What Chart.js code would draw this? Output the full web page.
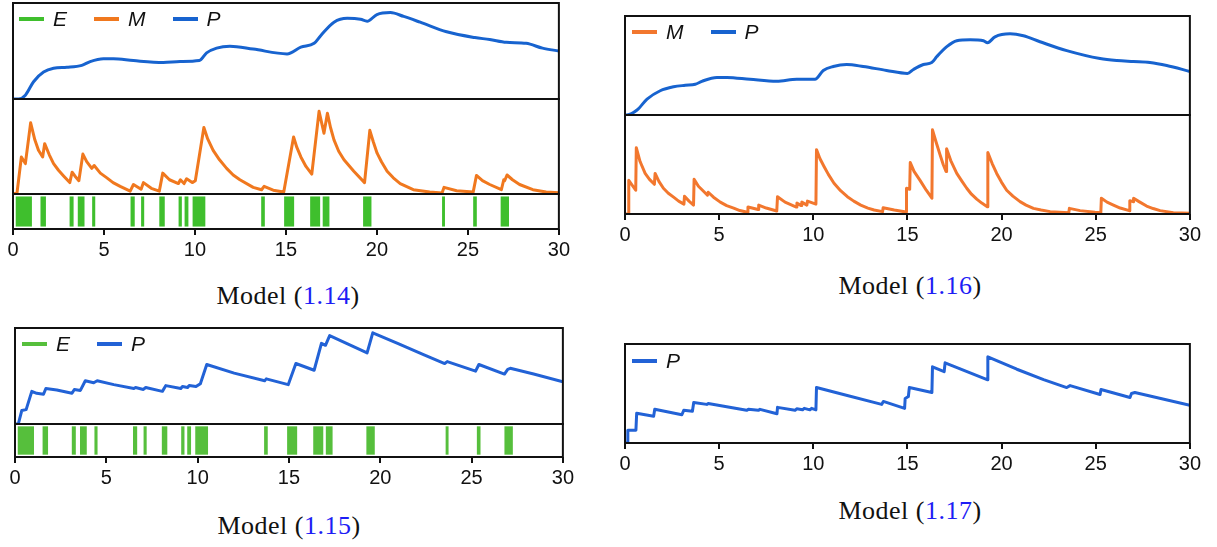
<!DOCTYPE html>
<html>
<head>
<meta charset="utf-8">
<script src="https://cdn.jsdelivr.net/npm/chart.js@4/dist/chart.umd.min.js"></script>
<style>
  body { margin: 0; background: #fff; width: 1217px; height: 547px; position: relative; overflow: hidden; }
  canvas { position: absolute; }
  .legend { position: absolute; display: flex; align-items: center; line-height: 24px;
            font: italic 21px 'Liberation Sans', Arial, sans-serif; color: #111; }
  .legend .item { display: flex; align-items: center; margin-right: 27px; }
  .legend .swatch { width: 25px; height: 4px; margin-right: 9px; }
  .caption { position: absolute; width: 220px; text-align: center; line-height: 30px; letter-spacing: 0.5px;
             font: 26px 'Liberation Serif', 'Times New Roman', serif; color: #111; }
  .caption .ref { color: #1d1df5; }
</style>
</head>
<body>
<canvas id="c114" width="573" height="263" style="left:0;top:0"></canvas>
<canvas id="c116" width="593" height="235" style="left:611px;top:13px"></canvas>
<canvas id="c115" width="576" height="166" style="left:1px;top:325px"></canvas>
<canvas id="c117" width="593" height="136" style="left:611px;top:341px"></canvas>

<div class="legend" id="lg114" style="left:19px;top:7px"></div>
<div class="legend" id="lg116" style="left:632px;top:20px"></div>
<div class="legend" id="lg115" style="left:22px;top:332px"></div>
<div class="legend" id="lg117" style="left:632px;top:349px"></div>

<div class="caption" style="left:178px;top:281px">Model (<span class="ref">1.14</span>)</div>
<div class="caption" style="left:800px;top:271px">Model (<span class="ref">1.16</span>)</div>
<div class="caption" style="left:179px;top:511px">Model (<span class="ref">1.15</span>)</div>
<div class="caption" style="left:800px;top:496px">Model (<span class="ref">1.17</span>)</div>

<script>
// x ticks shared by every panel
const timeTicks = [0, 5, 10, 15, 20, 25, 30];

// E: event intervals [start, end]
const eventIntervals = [
  [0.15, 1.04], [1.51, 1.81], [3.11, 3.33], [3.56, 3.93], [4.35, 4.52],
  [6.46, 6.69], [7.04, 7.21], [8.04, 8.34], [9.10, 9.28], [9.43, 9.64],
  [9.87, 10.57], [13.64, 13.84], [14.90, 15.45], [16.33, 16.88], [17.02, 17.39],
  [19.24, 19.70], [23.58, 23.74], [25.29, 25.49], [26.80, 27.26]
];

// Model (1.14): [t, value], values relative to each sub-plot height
const p114 = [
  [0, 0], [0.31, 0], [0.68, 0.04], [1.13, 0.18], [1.68, 0.28], [2.23, 0.32], [2.96, 0.33],
  [3.78, 0.35], [4.24, 0.39], [4.97, 0.42], [5.52, 0.42], [6.62, 0.40], [8.26, 0.38],
  [9.18, 0.39], [10.24, 0.40], [10.64, 0.48], [11.19, 0.53], [11.92, 0.55], [13.2, 0.52],
  [15.06, 0.47], [15.82, 0.54], [16.55, 0.58], [16.91, 0.66], [17.64, 0.80], [18.37, 0.84],
  [19.1, 0.83], [19.46, 0.81], [20.0, 0.88], [20.74, 0.90], [21.47, 0.86], [22.38, 0.80],
  [23.83, 0.70], [25.38, 0.64], [26.2, 0.62], [27.11, 0.59], [28.2, 0.58], [29.1, 0.53], [30, 0.50]
];
const m114 = [
  [0, 0], [0.22, 0.01], [0.46, 0.39], [0.68, 0.32], [0.97, 0.75], [1.2, 0.57], [1.4, 0.46],
  [1.63, 0.39], [1.74, 0.53], [2.0, 0.41], [2.23, 0.32], [2.5, 0.25], [2.78, 0.19], [3.12, 0.12],
  [3.25, 0.23], [3.4, 0.19], [3.62, 0.14], [3.84, 0.42], [4.05, 0.34], [4.33, 0.27], [4.46, 0.30],
  [4.8, 0.22], [5.16, 0.17], [5.5, 0.12], [5.89, 0.08], [6.44, 0.03], [6.62, 0.10], [7.04, 0.05],
  [7.17, 0.12], [7.6, 0.06], [8.04, 0.03], [8.23, 0.22], [8.6, 0.15], [9.09, 0.11], [9.2, 0.15],
  [9.4, 0.11], [9.54, 0.16], [9.85, 0.12], [10.02, 0.14], [10.49, 0.70], [10.7, 0.58], [11.0, 0.46],
  [11.35, 0.36], [11.74, 0.27], [12.1, 0.20], [12.47, 0.15], [13.2, 0.07], [13.66, 0.045],
  [13.8, 0.08], [14.3, 0.04], [14.88, 0.02], [15.42, 0.60], [15.6, 0.49], [15.82, 0.39],
  [16.1, 0.29], [16.42, 0.21], [16.82, 0.87], [17.09, 0.64], [17.28, 0.85], [17.45, 0.70],
  [17.64, 0.57], [17.9, 0.45], [18.19, 0.36], [18.73, 0.24], [19.32, 0.12], [19.61, 0.67],
  [19.8, 0.55], [20.01, 0.43], [20.25, 0.34], [20.56, 0.24], [20.9, 0.17], [21.28, 0.11],
  [22.0, 0.045], [22.9, 0.02], [23.58, 0.01], [23.69, 0.07], [24.38, 0.035], [25.29, 0.02],
  [25.47, 0.195], [25.8, 0.14], [26.2, 0.10], [26.84, 0.045], [26.97, 0.15], [27.02, 0.14],
  [27.15, 0.20], [27.45, 0.15], [27.84, 0.10], [28.57, 0.045], [29.3, 0.02], [30, 0.014]
];

// Model (1.16)
const p116 = [
  [0, 0], [0.1, 0], [0.64, 0.05], [1.17, 0.16], [1.87, 0.245], [2.58, 0.285], [3.2, 0.30],
  [3.73, 0.31], [4.08, 0.34], [4.88, 0.38], [5.41, 0.38], [6.64, 0.36], [8.06, 0.34], [9.12, 0.36],
  [10.09, 0.36], [10.53, 0.45], [11.06, 0.49], [11.77, 0.51], [12.65, 0.49], [13.89, 0.45],
  [15.0, 0.42], [15.32, 0.46], [15.85, 0.51], [16.29, 0.53], [16.56, 0.59], [17.09, 0.69],
  [17.62, 0.75], [18.33, 0.76], [19.04, 0.75], [19.25, 0.73], [19.65, 0.79], [20.45, 0.82],
  [21.16, 0.80], [22.04, 0.74], [23.46, 0.65], [25.23, 0.57], [26.12, 0.55], [27.0, 0.54],
  [27.88, 0.53], [28.77, 0.50], [30, 0.44]
];
const m116 = [
  [0, 0], [0.2, 0], [0.2, 0.34], [0.57, 0.24], [0.6, 0.67], [0.8, 0.53], [1.07, 0.41], [1.3, 0.35],
  [1.56, 0.30], [1.6, 0.41], [1.8, 0.33], [2.04, 0.26], [2.3, 0.21], [2.58, 0.17], [2.85, 0.13],
  [3.13, 0.10], [3.16, 0.18], [3.4, 0.13], [3.64, 0.09], [3.67, 0.35], [3.9, 0.28], [4.17, 0.23],
  [4.38, 0.19], [4.42, 0.22], [4.7, 0.17], [5.06, 0.12], [5.4, 0.085], [5.77, 0.06], [6.1, 0.035],
  [6.5, 0.017], [6.53, 0.07], [7.07, 0.045], [7.1, 0.09], [7.5, 0.06], [8.06, 0.03], [8.1, 0.175],
  [8.5, 0.12], [9.1, 0.07], [9.13, 0.11], [9.36, 0.085], [9.39, 0.12], [9.66, 0.09], [9.69, 0.13],
  [10.14, 0.10], [10.17, 0.65], [10.35, 0.56], [10.57, 0.48], [10.8, 0.40], [11.1, 0.31],
  [11.45, 0.235], [11.81, 0.175], [12.15, 0.13], [12.52, 0.09], [12.9, 0.06], [13.23, 0.04],
  [13.68, 0.024], [13.71, 0.064], [14.3, 0.04], [14.93, 0.02], [14.95, 0.26], [15.12, 0.25],
  [15.15, 0.52], [15.35, 0.43], [15.67, 0.34], [16.0, 0.24], [16.3, 0.16], [16.33, 0.85],
  [16.5, 0.74], [16.73, 0.60], [16.9, 0.50], [17.05, 0.43], [17.08, 0.66], [17.3, 0.54],
  [17.62, 0.41], [17.9, 0.33], [18.15, 0.26], [18.4, 0.20], [18.68, 0.15], [18.95, 0.11],
  [19.24, 0.074], [19.27, 0.62], [19.5, 0.51], [19.74, 0.41], [20.0, 0.32], [20.27, 0.24],
  [20.6, 0.18], [20.98, 0.125], [21.3, 0.09], [21.69, 0.057], [22.1, 0.04], [22.58, 0.024],
  [23.57, 0.013], [23.6, 0.057], [24.17, 0.034], [24.96, 0.017], [25.27, 0.012], [25.3, 0.16],
  [25.6, 0.12], [25.94, 0.09], [26.3, 0.06], [26.78, 0.034], [26.81, 0.135], [26.98, 0.125],
  [27.01, 0.16], [27.3, 0.125], [27.7, 0.08], [28.05, 0.055], [28.42, 0.034], [29.12, 0.013], [30, 0.007]
];

// Model (1.15)
const p115 = [
  [0, 0], [0.18, 0], [0.37, 0.14], [0.61, 0.15], [0.92, 0.34], [1.19, 0.32], [1.56, 0.31],
  [1.69, 0.37], [2.29, 0.355], [3.12, 0.32], [3.25, 0.36], [3.58, 0.35], [3.85, 0.45], [4.31, 0.43],
  [4.5, 0.45], [5.41, 0.41], [6.51, 0.37], [6.6, 0.38], [7.03, 0.36], [7.16, 0.38], [8.07, 0.34],
  [8.26, 0.40], [9.08, 0.37], [9.17, 0.39], [9.45, 0.38], [9.54, 0.40], [9.91, 0.39], [10.15, 0.42],
  [10.5, 0.62], [12.0, 0.53], [13.67, 0.45], [13.76, 0.47], [14.96, 0.41], [15.38, 0.63],
  [16.38, 0.56], [16.78, 0.84], [17.0, 0.82], [17.23, 0.92], [19.28, 0.74], [19.59, 0.95],
  [20.95, 0.84], [22.4, 0.72], [23.53, 0.63], [23.67, 0.65], [25.22, 0.55], [25.4, 0.62],
  [26.8, 0.52], [26.98, 0.57], [27.12, 0.58], [28.4, 0.52], [30, 0.44]
];

// Model (1.17)
const p117 = [
  [0, 0], [0.12, 0], [0.15, 0.13], [0.58, 0.13], [0.62, 0.30], [1.52, 0.27], [1.58, 0.34],
  [3.02, 0.285], [3.12, 0.33], [3.58, 0.32], [3.65, 0.41], [4.34, 0.39], [4.42, 0.40], [6.46, 0.33],
  [6.55, 0.34], [7.08, 0.33], [7.17, 0.34], [8.07, 0.295], [8.1, 0.36], [9.03, 0.33], [9.12, 0.345],
  [9.43, 0.335], [9.52, 0.35], [9.82, 0.335], [9.91, 0.35], [10.14, 0.335], [10.17, 0.56],
  [11.6, 0.49], [13.63, 0.39], [13.72, 0.42], [14.85, 0.35], [14.88, 0.45], [15.05, 0.47],
  [15.1, 0.56], [16.3, 0.51], [16.33, 0.77], [16.95, 0.72], [17.0, 0.81], [19.23, 0.64],
  [19.27, 0.87], [20.81, 0.745], [22.23, 0.64], [23.46, 0.56], [23.64, 0.58], [25.23, 0.49],
  [25.28, 0.54], [26.82, 0.46], [26.9, 0.50], [27.08, 0.51], [30, 0.38]
];

const GREEN = '#3fbf2d', GREEN_LIGHT = '#56bf3c';
const ORANGE = '#f0781e', ORANGE_LIGHT = '#f2772e';
const BLUE = '#1763cf', BLUE_ALT = '#2262d6';
const FONT = "'Liberation Sans', Arial, sans-serif";

// Black frame around every stacked sub-plot
const framePlugin = {
  id: 'frame',
  afterDraw(chart) {
    const { ctx, chartArea } = chart;
    ctx.save();
    ctx.strokeStyle = '#111';
    ctx.lineWidth = 2;
    Object.values(chart.scales).forEach(s => {
      if (s.axis !== 'y') return;
      ctx.strokeRect(chartArea.left, s.top, chartArea.right - chartArea.left, s.bottom - s.top);
    });
    ctx.restore();
  }
};

function lineSet(label, pairs, color, yAxisID, smooth) {
  return {
    type: 'line', label, yAxisID,
    data: pairs.map(([x, y]) => ({ x, y })),
    borderColor: color, borderWidth: 3,
    borderJoinStyle: 'round', borderCapStyle: 'round',
    pointRadius: 0, fill: false,
    tension: smooth ? 0.4 : 0,
    cubicInterpolationMode: smooth ? 'monotone' : 'default'
  };
}

function eventSet(color) {
  return {
    type: 'bar', label: 'E', indexAxis: 'y', xAxisID: 'x', yAxisID: 'yE',
    data: eventIntervals.map(([s, e]) => ({ x: [s, e], y: 'E' })),
    backgroundColor: color, borderWidth: 0,
    barPercentage: 1, categoryPercentage: 0.86
  };
}

function xAxis() {
  return {
    type: 'linear', position: 'bottom', min: 0, max: 30,
    afterBuildTicks: s => { s.ticks = timeTicks.map(v => ({ value: v })); },
    afterFit: s => { s.height = 34; },
    grid: { drawOnChartArea: false, drawTicks: true, tickLength: 6, color: '#111', lineWidth: 2 },
    border: { display: false },
    ticks: { color: '#111', padding: 3, font: { family: FONT, size: 20 } }
  };
}

function yAxis(stack, weight) {
  return { type: 'linear', min: 0, max: 1, display: false, position: 'right', stack, stackWeight: weight };
}

function drawPanel(canvasId, datasets, scales, padLeft) {
  return new Chart(document.getElementById(canvasId), {
    type: 'line',
    data: { datasets },
    options: {
      responsive: false,
      animation: false,
      events: [],
      layout: { padding: { left: padLeft, right: 14, top: 3, bottom: 0 } },
      plugins: { legend: { display: false }, tooltip: { enabled: false } },
      scales
    },
    plugins: [framePlugin]
  });
}

function buildLegend(id, items) {
  const el = document.getElementById(id);
  items.forEach(([label, color]) => {
    const item = document.createElement('div');
    item.className = 'item';
    const sw = document.createElement('span');
    sw.className = 'swatch';
    sw.style.background = color;
    const tx = document.createElement('span');
    tx.textContent = label;
    item.append(sw, tx);
    el.appendChild(item);
  });
}

// Model (1.14): P, M, E
drawPanel('c114', [
  lineSet('P', p114, BLUE, 'yP', true),
  lineSet('M', m114, ORANGE, 'yM', false),
  eventSet(GREEN)
], {
  x: xAxis(),
  yP: yAxis('s114', 96),
  yM: yAxis('s114', 95),
  yE: { type: 'category', labels: ['E'], offset: true, display: false, position: 'right', stack: 's114', stackWeight: 35 }
}, 13);

// Model (1.16): P, M
drawPanel('c116', [
  lineSet('P', p116, BLUE, 'yP', true),
  lineSet('M', m116, ORANGE_LIGHT, 'yM', false)
], {
  x: xAxis(),
  yP: yAxis('s116', 99),
  yM: yAxis('s116', 99)
}, 14);

// Model (1.15): P, E
drawPanel('c115', [
  lineSet('P', p115, BLUE_ALT, 'yP', false),
  eventSet(GREEN_LIGHT)
], {
  x: xAxis(),
  yP: yAxis('s115', 96),
  yE: { type: 'category', labels: ['E'], offset: true, display: false, position: 'right', stack: 's115', stackWeight: 33 }
}, 14);

// Model (1.17): P only
drawPanel('c117', [
  lineSet('P', p117, BLUE_ALT, 'yP', false)
], {
  x: xAxis(),
  yP: { type: 'linear', min: 0, max: 1, display: false, position: 'right' }
}, 14);

buildLegend('lg114', [['E', GREEN], ['M', ORANGE], ['P', BLUE]]);
buildLegend('lg116', [['M', ORANGE_LIGHT], ['P', BLUE]]);
buildLegend('lg115', [['E', GREEN_LIGHT], ['P', BLUE_ALT]]);
buildLegend('lg117', [['P', BLUE_ALT]]);
</script>
</body>
</html>
